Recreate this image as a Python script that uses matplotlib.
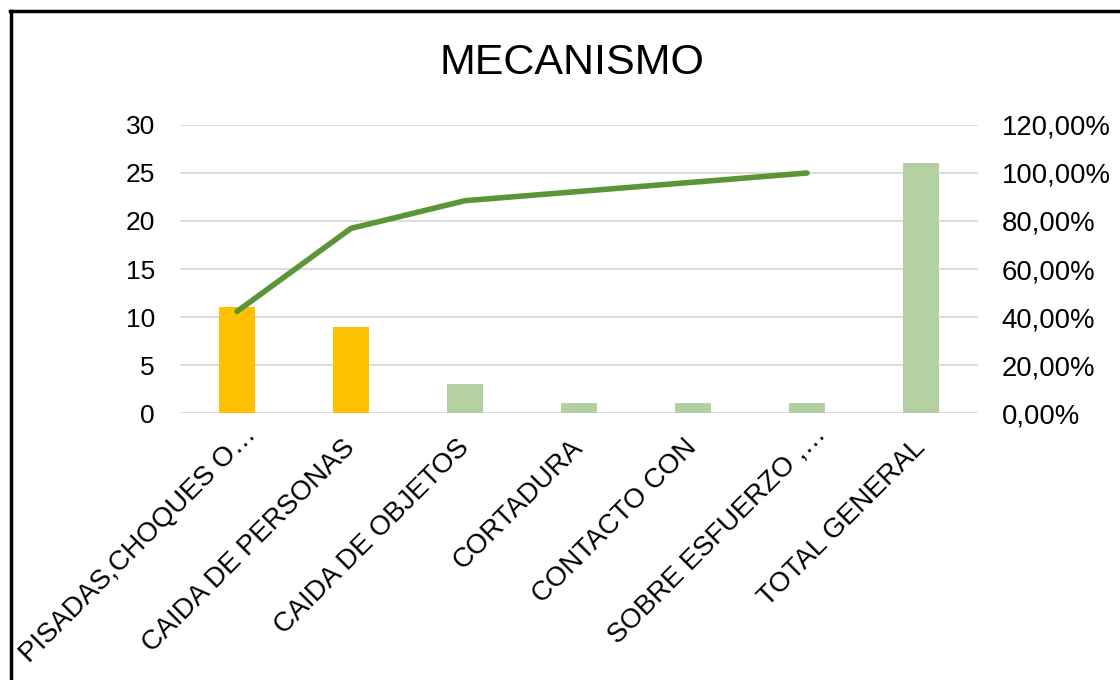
import matplotlib
matplotlib.use("Agg")
import matplotlib.pyplot as plt
from matplotlib.lines import Line2D
from matplotlib.ticker import FuncFormatter
from matplotlib.transforms import ScaledTranslation
import numpy as np

plt.rcParams['font.family'] = ['Liberation Sans', 'DejaVu Sans']

# data
categorias = ["PISADAS,CHOQUES O…", "CAIDA DE PERSONAS", "CAIDA DE OBJETOS",
              "CORTADURA", "CONTACTO CON", "SOBRE ESFUERZO ,…", "TOTAL GENERAL"]
frecuencia = [11, 9, 3, 1, 1, 1, 26]
acumulado = [0.4231, 0.7692, 0.8846, 0.9231, 0.9615, 1.0]   # % acumulado (sin total)
colores = ["#FFC000", "#FFC000", "#B3D0A3", "#B3D0A3", "#B3D0A3", "#B3D0A3", "#B3D0A3"]

fig = plt.figure(figsize=(11.2, 6.8), dpi=100)
ax = fig.add_axes([0.1607, 0.3926, 0.7125, 0.4236])
x = np.arange(len(categorias))

ax.bar(x, frecuencia, width=0.32, color=colores, zorder=2)
ax.set_xlim(-0.5, len(categorias) - 0.5)
ax.set_ylim(0, 30)
ax.set_yticks(range(0, 31, 5))
ax.grid(axis='y', color='#D9D9D9', linewidth=1.3, zorder=0)
for s in ax.spines.values():
    s.set_visible(False)
ax.tick_params(axis='both', length=0, labelsize=19, colors='#000000')
ax.tick_params(axis='y', pad=18)
ax.tick_params(axis='x', pad=22)
ax.set_xticks(x)
ax.set_xticklabels(categorias, rotation=45, ha='right', va='center', rotation_mode='anchor',
                   fontsize=19.8)
# las etiquetas truncadas con "…" quedan un poco mas arriba/derecha en excel
for lbl in ax.get_xticklabels():
    if lbl.get_text().endswith("…"):
        lbl.set_transform(lbl.get_transform() + ScaledTranslation(0.15, 0.13, fig.dpi_scale_trans))

ax2 = ax.twinx()
ax2.plot(x[:len(acumulado)], acumulado, color='#5C9537', linewidth=4,
         solid_capstyle='round', solid_joinstyle='round', zorder=3)
ax2.set_ylim(0, 1.2)
ax2.set_yticks(np.arange(0, 1.21, 0.2))
ax2.yaxis.set_major_formatter(FuncFormatter(lambda v, p: ("%.2f%%" % (v * 100)).replace('.', ',')))
for s in ax2.spines.values():
    s.set_visible(False)
ax2.tick_params(axis='y', length=0, labelsize=19.8, pad=17)

fig.text(0.511, 0.908, "MECANISMO", ha='center', va='center', fontsize=31)

# marco
fig.add_artist(Line2D([0.009, 1.0], [0.984, 0.984], color='black', linewidth=2.5, transform=fig.transFigure))
fig.add_artist(Line2D([0.0095, 0.0095], [0.0, 0.984], color='black', linewidth=2.5, transform=fig.transFigure))

fig.savefig("out.png", dpi=100)
